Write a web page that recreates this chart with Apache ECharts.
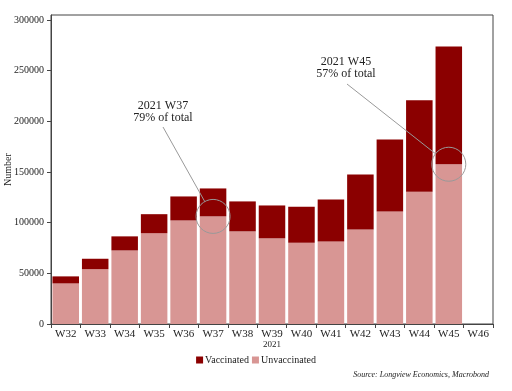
<!DOCTYPE html>
<html>
<head>
<meta charset="utf-8">
<script src="https://cdn.jsdelivr.net/npm/echarts@6/dist/echarts.min.js"></script>
<style>html,body{margin:0;padding:0;background:#fff}#c{width:512px;height:391px}</style>
</head>
<body>
<div id="c"></div>
<script>
const categories = ['W32','W33','W34','W35','W36','W37','W38','W39','W40','W41','W42','W43','W44','W45','W46'];
const unvaccinated = [40100, 54200, 72600, 89700, 102200, 106200, 91400, 84500, 80200, 81500, 93300, 111000, 130500, 157700, '-'];
const vaccinated   = [6900, 10200, 13900, 18700, 23700, 27600, 29600, 32500, 35500, 41400, 54300, 71100, 90300, 116300, '-'];
const yTicks = [0, 50000, 100000, 150000, 200000, 250000, 300000];
const annotations = [
  {cat: 'W37', idx: 5, text: '2021 W37\n79% of total', tx: 163, ty: 100, sx: 163, sy: 127},
  {cat: 'W45', idx: 13, text: '2021 W45\n57% of total', tx: 346, ty: 56, sx: 347, sy: 84}
];

const FONT = '"Liberation Serif", "DejaVu Serif", serif';
const chart = echarts.init(document.getElementById('c'), null, {renderer: 'canvas'});
const option = {
  animation: false,
  textStyle: {fontFamily: FONT},
  grid: {left: 51, right: 19, top: 15, bottom: 67, containLabel: false, outerBoundsMode: 'none',
         show: true, borderColor: '#444', borderWidth: 1, backgroundColor: 'transparent'},
  legend: {
    data: ['Vaccinated', 'Unvaccinated'],
    top: 350, left: 'center',
    itemWidth: 7, itemHeight: 7, itemGap: 3,
    icon: 'rect',
    itemStyle: {borderWidth: 0},
    textStyle: {fontFamily: FONT, fontSize: 10, color: '#222', padding: [0,0,0,-3]}
  },
  xAxis: {
    type: 'category',
    data: categories,
    name: '2021',
    nameLocation: 'middle',
    nameGap: 16,
    nameMoveOverlap: false,
    nameTextStyle: {fontFamily: FONT, fontSize: 9, color: '#222'},
    axisLine: {lineStyle: {color: '#444', width: 1}},
    axisTick: {show: true, alignWithLabel: false, length: 4, lineStyle: {color: '#444'}},
    axisLabel: {fontFamily: FONT, fontSize: 11, color: '#222', margin: 5}
  },
  yAxis: {
    type: 'value',
    min: 0, max: 305000, interval: 50000,
    name: 'Number',
    nameLocation: 'middle',
    nameGap: 38,
    nameMoveOverlap: false,
    nameTextStyle: {fontFamily: FONT, fontSize: 10, color: '#222'},
    splitLine: {show: false},
    axisLine: {show: true, lineStyle: {color: '#444', width: 1}},
    axisTick: {show: true, length: 4, lineStyle: {color: '#444'}, customValues: yTicks},
    axisLabel: {fontFamily: FONT, fontSize: 10, color: '#222', margin: 7, customValues: yTicks,
                formatter: v => String(v)}
  },
  series: [
    {
      name: 'Unvaccinated', type: 'bar', stack: 't', data: unvaccinated,
      barCategoryGap: '10%',
      itemStyle: {color: '#d89694'}
    },
    {
      name: 'Vaccinated', type: 'bar', stack: 't', data: vaccinated,
      barCategoryGap: '10%',
      itemStyle: {color: '#8b0000'}
    }
  ]
};
chart.setOption(option);

const graphics = [];
annotations.forEach(a => {
  const c = chart.convertToPixel({xAxisIndex: 0, yAxisIndex: 0}, [a.cat, unvaccinated[a.idx]]);
  const r = 17;
  const dx = c[0] - a.sx, dy = c[1] - a.sy;
  const L = Math.sqrt(dx*dx + dy*dy);
  const ex = c[0] - r*dx/L, ey = c[1] - r*dy/L;
  graphics.push({type: 'circle', shape: {cx: c[0], cy: c[1], r: r}, style: {fill: 'none', stroke: '#999', lineWidth: 1}, z: 100});
  graphics.push({type: 'line', shape: {x1: a.sx, y1: a.sy, x2: ex, y2: ey}, style: {stroke: '#999', lineWidth: 1}, z: 100});
  graphics.push({type: 'text', x: a.tx, y: a.ty, style: {text: a.text, fill: '#222', font: '12px ' + FONT, textAlign: 'center', textVerticalAlign: 'top', lineHeight: 12}, z: 100});
});
graphics.push({type: 'text', right: 23, top: 371, style: {text: 'Source: Longview Economics, Macrobond', fill: '#222', font: 'italic 8px ' + FONT}, z: 100});
chart.setOption({graphic: graphics});
</script>
</body>
</html>
